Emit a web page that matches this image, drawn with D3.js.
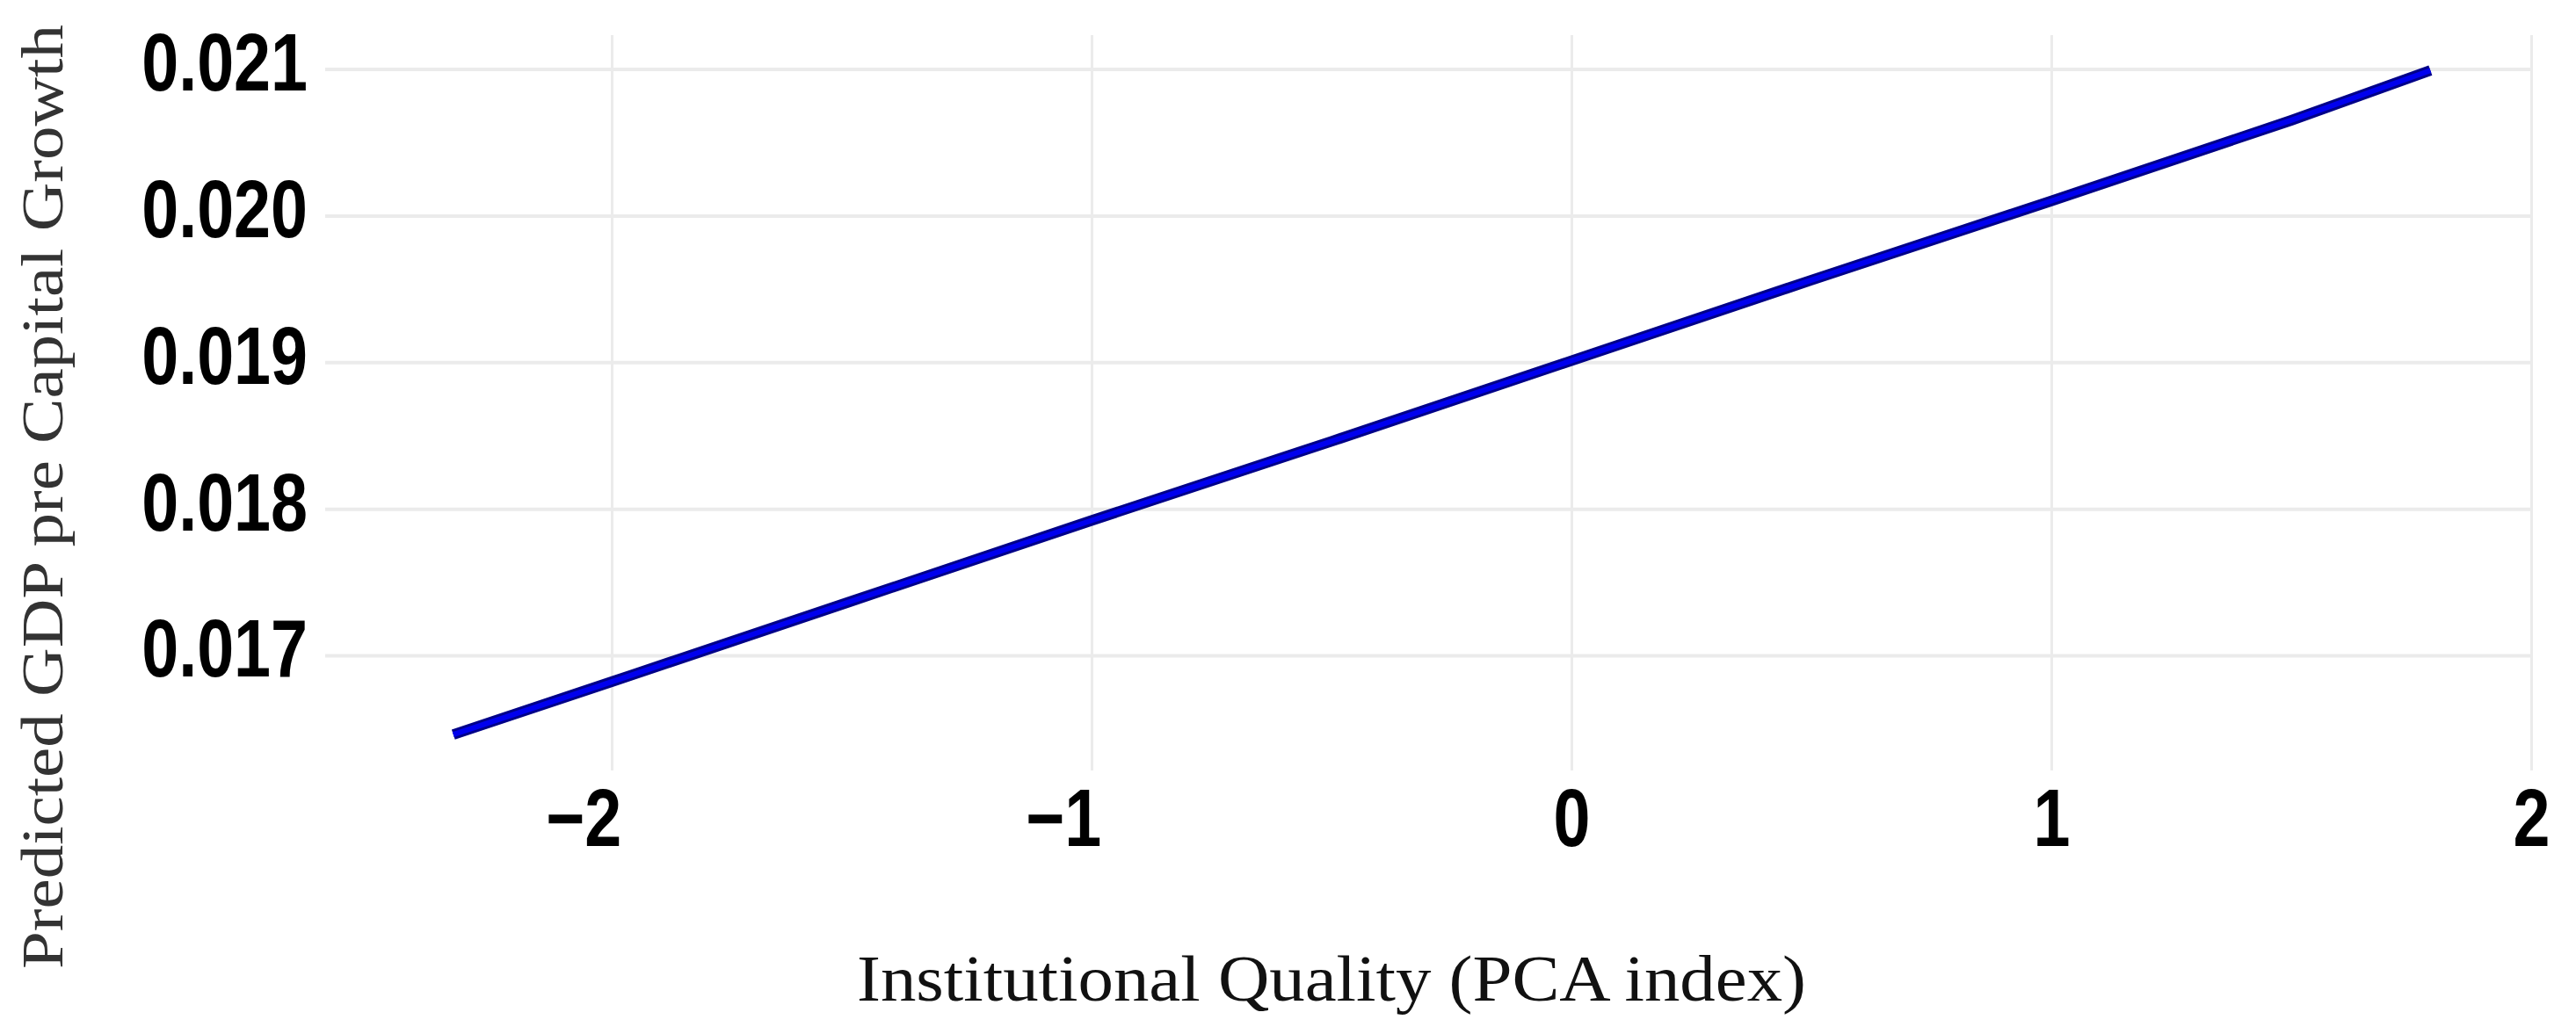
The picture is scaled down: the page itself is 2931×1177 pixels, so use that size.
<!DOCTYPE html>
<html>
<head>
<meta charset="utf-8">
<script src="https://cdn.jsdelivr.net/npm/d3@7"></script>
<style>
  html, body { margin: 0; padding: 0; background: #fff; }
  svg { display: block; }
</style>
</head>
<body>
<script>
(() => {
  // values
  const iqIndex   = [-2.33, -2, -1.5, -1, -0.5, 0, 0.5, 1, 1.5, 1.79];
  const predGrowth = [0.01646, 0.01682, 0.01737, 0.01792, 0.01846, 0.01901, 0.01956, 0.02010, 0.02065, 0.02099];
  const xTicks = [-2, -1, 0, 1, 2];
  const yTicks = [0.017, 0.018, 0.019, 0.020, 0.021];

  const W = 2931, H = 1177;
  const panel = { l: 370, r: 2880, t: 40, b: 877 };
  const narrow = 0.82; // no narrow face installed, squeeze the bold sans instead

  const tickFont  = "'Liberation Sans', Arial, sans-serif";
  const titleFont = "'Liberation Serif', 'DejaVu Serif', serif";

  const svg = d3.select("body").append("svg")
    .attr("width", W).attr("height", H)
    .attr("viewBox", [0, 0, W, H]);

  const x = d3.scaleLinear().domain([-2.597, 2.0]).range([panel.l, panel.r]);
  const y = d3.scaleLinear().domain([0.016215, 0.021231]).range([panel.b, panel.t]);

  function squeeze(sel) {
    sel.each(function () {
      const w = this.getComputedTextLength();
      d3.select(this)
        .attr("textLength", w * narrow)
        .attr("lengthAdjust", "spacingAndGlyphs");
    });
  }

  // vertical grid + x labels
  const gx = svg.append("g")
    .attr("transform", `translate(0,${panel.b})`)
    .call(d3.axisBottom(x)
      .tickValues(xTicks)
      .tickSize(-(panel.b - panel.t))
      .tickPadding(21)
      .tickFormat(d => d < 0 ? "\u2212" + Math.abs(d) : d));

  gx.select(".domain").remove();
  gx.selectAll(".tick line").attr("stroke", "#ebebeb").attr("stroke-width", 3);
  gx.selectAll(".tick text")
    .attr("font-family", tickFont)
    .attr("font-weight", "bold")
    .attr("font-size", 92)
    .attr("fill", "#000")
    .attr("dx", d => d < 0 ? "-0.35em" : 0)
    .call(squeeze);

  // horizontal grid + y labels
  const gy = svg.append("g")
    .attr("transform", `translate(${panel.l},0)`)
    .call(d3.axisLeft(y)
      .tickValues(yTicks)
      .tickSize(-(panel.r - panel.l))
      .tickPadding(20)
      .tickFormat(d3.format(".3f")));

  gy.select(".domain").remove();
  gy.selectAll(".tick line").attr("stroke", "#ebebeb").attr("stroke-width", 4);
  gy.selectAll(".tick text")
    .attr("font-family", tickFont)
    .attr("font-weight", "bold")
    .attr("font-size", 92)
    .attr("fill", "#000")
    .attr("dy", "0.26em")
    .call(squeeze);

  const pts = iqIndex.map((v, i) => [v, predGrowth[i]]);
  const line = d3.line().x(d => x(d[0])).y(d => y(d[1]));

  svg.append("path")
    .datum(pts)
    .attr("fill", "none")
    .attr("stroke", "#000088")
    .attr("stroke-width", 12)
    .attr("d", line);

  svg.append("path")
    .datum(pts)
    .attr("fill", "none")
    .attr("stroke", "#0000ee")
    .attr("stroke-width", 6)
    .attr("d", line);

  // axis titles
  svg.append("text")
    .attr("x", 975).attr("y", 1139)
    .attr("font-family", titleFont)
    .attr("font-size", 75)
    .attr("fill", "#111")
    .attr("textLength", 1080)
    .attr("lengthAdjust", "spacingAndGlyphs")
    .text("Institutional Quality (PCA index)");

  svg.append("text")
    .attr("transform", "translate(71,1103) rotate(-90)")
    .attr("font-family", titleFont)
    .attr("font-size", 68)
    .attr("fill", "#333")
    .attr("textLength", 1075)
    .attr("lengthAdjust", "spacingAndGlyphs")
    .text("Predicted GDP pre Capital Growth");
})();
</script>
</body>
</html>
